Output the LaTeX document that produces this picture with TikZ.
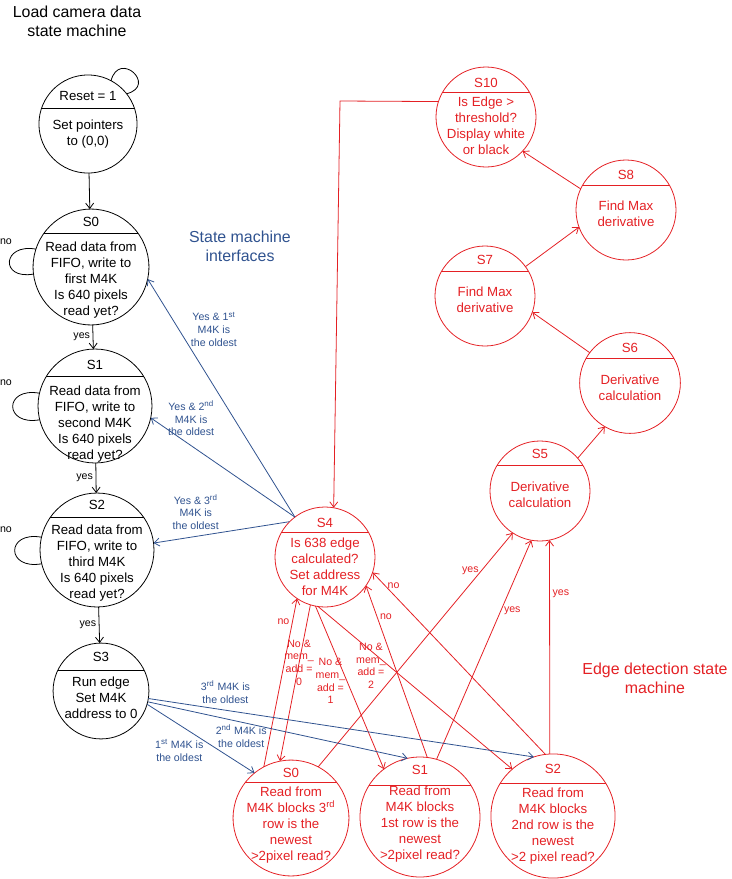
\documentclass[tikz,border=0pt]{standalone}
\usepackage{fontspec}
\setmainfont{Liberation Sans}
\usepackage{xcolor}
\usepackage{tikz}
\usetikzlibrary{arrows.meta}

\definecolor{ifblue}{RGB}{47,82,143}
\definecolor{edred}{RGB}{228,32,36}

\begin{document}
\begin{tikzpicture}[x=2.65cm,y=-2.65cm,>={Straight Barb[length=4pt,width=6pt]},
  font=\fontsize{10}{12}\selectfont,line width=0.6pt,
  lstate/.style={circle,draw,inner sep=0pt,outer sep=0pt},
  estate/.style={circle,draw=edred,inner sep=0pt,outer sep=0pt},
  txt/.style={align=center,inner sep=1pt},
  lbl/.style={align=center,font=\fontsize{8}{9.5}\selectfont,inner sep=2pt},
  big/.style={align=center,font=\fontsize{12}{14.3}\selectfont},
  econn/.style={->,edred},
  iconn/.style={->,ifblue}]
\path[use as bounding box] (0,0) rectangle (7.32,8.79);

% load camera data state machine
\node[big] (ttlL) at (0.77,0.21) {Load camera data\\state machine};

\node[lstate,minimum size=2.60cm] (rst) at (0.88,1.24) {};
\draw (rst.161) -- (rst.19);
\node[txt] at (0.88,0.96) {Reset = 1};
\node[txt] at (0.88,1.34) {Set pointers\\to (0,0)};

\node[lstate,minimum size=3.07cm] (lS0) at (0.91,2.67) {};
\draw (lS0.144) -- (lS0.36);
\node[txt] at (0.91,2.22) {S0};
\node[txt] at (0.91,2.80) {Read data from\\FIFO, write to\\first M4K\\Is 640 pixels\\read yet?};

\node[lstate,minimum size=3.02cm] (lS1) at (0.95,4.06) {};
\draw (lS1.149) -- (lS1.31);
\node[txt] at (0.95,3.65) {S1};
\node[txt] at (0.95,4.24) {Read data from\\FIFO, write to\\second M4K\\Is 640 pixels\\read yet?};

\node[lstate,minimum size=3.02cm] (lS2) at (0.97,5.50) {};
\draw (lS2.145) -- (lS2.35);
\node[txt] at (0.97,5.05) {S2};
\node[txt] at (0.97,5.63) {Read data from\\FIFO, write to\\third M4K\\Is 640 pixels\\read yet?};

\node[lstate,minimum size=2.54cm] (lS3) at (1.01,6.91) {};
\draw (lS3.154) -- (lS3.26);
\node[txt] at (1.01,6.57) {S3};
\node[txt] at (1.01,6.98) {Run edge\\Set M4K\\address to 0};

% self loops
\draw (rst.62) to[out=75,in=15,looseness=4] (rst.38);
\draw (lS0.162) to[out=170,in=190,looseness=3.5] (lS0.187);
\draw (lS1.167) to[out=170,in=190,looseness=3.5] (lS1.194);
\draw (lS2.167) to[out=170,in=190,looseness=3.5] (lS2.194);
\node[lbl] at (0.06,2.42) {no};
\node[lbl] at (0.06,3.83) {no};
\node[lbl] at (0.06,5.30) {no};

\draw[->] (rst) -- (lS0);
\draw[->] (lS0) -- (lS1) node[lbl,midway,left] {yes};
\draw[->] (lS1) -- (lS2) node[lbl,midway,left] {yes};
\draw[->] (lS2) -- (lS3) node[lbl,midway,left] {yes};

% edge detection state machine
\node[big,edred] (ttlR) at (6.55,6.78) {Edge detection state\\machine};
\node[big,ifblue] (ttlM) at (2.40,2.46) {State machine\\interfaces};

\node[estate,minimum size=2.65cm] (S10) at (4.86,1.17) {};
\draw[edred] (S10.151) -- (S10.29);
\node[txt,edred] at (4.86,0.83) {S10};
\node[txt,edred] at (4.86,1.26) {Is Edge >\\threshold?\\Display white\\or black};

\node[estate,minimum size=2.65cm] (S8) at (6.26,2.10) {};
\draw[edred] (S8.150) -- (S8.30);
\node[txt,edred] at (6.26,1.75) {S8};
\node[txt,edred] at (6.26,2.14) {Find Max\\derivative};

\node[estate,minimum size=2.65cm] (S7) at (4.85,2.96) {};
\draw[edred] (S7.150) -- (S7.30);
\node[txt,edred] at (4.85,2.60) {S7};
\node[txt,edred] at (4.85,3.00) {Find Max\\derivative};

\node[estate,minimum size=2.67cm] (S6) at (6.30,3.83) {};
\draw[edred] (S6.151) -- (S6.29);
\node[txt,edred] at (6.30,3.48) {S6};
\node[txt,edred] at (6.30,3.88) {Derivative\\calculation};

\node[estate,minimum size=2.65cm] (S5) at (5.40,4.91) {};
\draw[edred] (S5.149) -- (S5.31);
\node[txt,edred] at (5.40,4.54) {S5};
\node[txt,edred] at (5.40,4.95) {Derivative\\calculation};

\node[estate,minimum size=2.65cm] (S4) at (3.25,5.57) {};
\draw[edred] (S4.150) -- (S4.30);
\node[txt,edred] at (3.25,5.23) {S4};
\node[txt,edred] at (3.25,5.67) {Is 638 edge\\calculated?\\Set address\\for M4K};

\node[estate,minimum size=3.07cm] (eS0) at (2.91,8.18) {};
\draw[edred] (eS0.142) -- (eS0.38);
\node[txt,edred] at (2.91,7.73) {S0};
\node[txt,edred] at (2.91,8.25) {Read from\\M4K blocks 3\textsuperscript{rd}\\row is the\\newest\\>2pixel read?};

\node[estate,minimum size=3.18cm] (eS1) at (4.20,8.17) {};
\draw[edred] (eS1.148) -- (eS1.32);
\node[txt,edred] at (4.20,7.70) {S1};
\node[txt,edred] at (4.20,8.24) {Read from\\M4K blocks\\1st row is the\\newest\\>2pixel read?};

\node[estate,minimum size=3.29cm] (eS2) at (5.53,8.16) {};
\draw[edred] (eS2.148) -- (eS2.32);
\node[txt,edred] at (5.53,7.69) {S2};
\node[txt,edred] at (5.53,8.26) {Read from\\M4K blocks\\2nd row is the\\newest\\>2 pixel read?};

% chain S5 -> S10 -> S4
\coordinate (bend) at (3.40,1.01);
\draw[econn] (S10.162) -- (bend) -- (S4.80);
\draw[econn] (S8.155) -- (S10.-43);
\draw[econn] (S7.36) -- (S8.200);
\draw[econn] (S6.143) -- (S7.-19);
\draw[econn] (S5.41) -- (S6.240);

% bottom states back to S5
\draw[econn] (eS0.62) -- (S5.237) node[lbl,pos=0.84,left] {yes};
\draw[econn] (eS1.74) -- (S5.260) node[lbl,pos=0.68,right] {yes};
\draw[econn] (eS2.93) -- (S5.281) node[lbl,pos=0.75,right] {yes};

% S4 to and from the bottom states
\draw[econn] (eS0.118) -- (S4.236) node[lbl,pos=0.86,left] {no};
\draw[econn] (S4.253) -- (eS0.101) node[lbl,pos=0.37] {No \&\\mem\_\\add =\\0};
\draw[econn] (S4.259) -- (eS1.127) node[lbl,pos=0.46,left=-1pt] {No \&\\mem\_\\add =\\1};
\draw[econn] (S4.262) -- (eS2.131) node[lbl,pos=0.364,left] {No \&\\mem\_\\add =\\2};
\draw[econn] (eS1.83) -- (S4.-35) node[lbl,pos=0.82,right] {no};
\draw[econn] (eS2.97) -- (S4.-18) node[lbl,pos=0.93,right] {no};

% interfaces between the two machines
\draw[iconn] (S4.127) -- (lS0.-12) node[lbl,pos=0.79,right=7pt] {Yes \& 1\textsuperscript{st}\\M4K is\\the oldest};
\draw[iconn] (S4.127) -- (lS1.-12) node[lbl,pos=0.72,above=5pt] {Yes \& 2\textsuperscript{nd}\\M4K is\\the oldest};
\draw[iconn] (S4.135) -- (lS2.7) node[lbl,pos=0.69,above=3pt] {Yes \& 3\textsuperscript{rd}\\M4K is\\the oldest};
\draw[iconn] (lS3.-16) -- (eS0.129) node[lbl,pos=0.3,below=9pt] {1\textsuperscript{st} M4K is\\the oldest};
\draw[iconn] (lS3.-13) -- (eS1.102) node[lbl,pos=0.36,below] {2\textsuperscript{nd} M4K is\\the oldest};
\draw[iconn] (lS3.-9) -- (eS2.108) node[lbl,pos=0.2,above=3pt] {3\textsuperscript{rd} M4K is\\the oldest};
\end{tikzpicture}
\end{document}
